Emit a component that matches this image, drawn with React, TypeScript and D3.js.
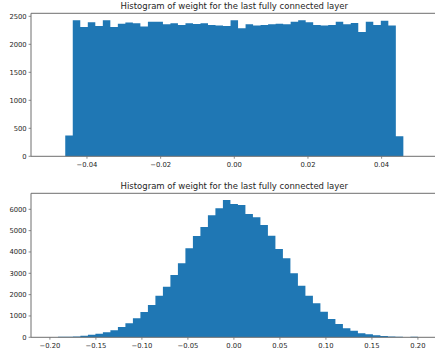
import React from "react";
import * as d3 from "d3";

const TITLE = "Histogram of weight for the last fully connected layer";

// Top histogram (uniform weights): 45 bins
const topBinLo = -0.0459;
const topBinHi = 0.0459;
const topCounts = [
  370, 2429, 2310, 2393, 2328, 2429, 2310, 2369, 2390, 2375,
  2320, 2405, 2405, 2360, 2375, 2345, 2375, 2365, 2375, 2345,
  2335, 2327, 2429, 2286, 2357, 2334, 2345, 2357, 2369, 2357,
  2405, 2429, 2393, 2345, 2334, 2345, 2405, 2357, 2381, 2220,
  2405, 2345, 2423, 2334, 357,
];
const topXTicks = [-0.04, -0.02, 0.0, 0.02, 0.04];
const topYTicks = [0, 500, 1000, 1500, 2000, 2500];
const topXDomain = [-0.0552, 0.0552];
const topYMax = 2554;

// Bottom histogram (normal weights): 50 bins
const botBinLo = -0.2076;
const botBinHi = 0.2;
const botCounts = [
  2, 5, 25, 28, 40, 77, 125, 170, 234, 328,
  483, 656, 890, 1186, 1514, 1950, 2372, 2920, 3467, 4170,
  4748, 5170, 5718, 6046, 6436, 6248, 6201, 5780, 5624, 5264,
  4764, 4139, 3702, 2999, 2420, 1950, 1592, 1202, 858, 624,
  420, 312, 187, 140, 94, 62, 38, 25, 5, 20,
];
const botXTicks = [-0.2, -0.15, -0.1, -0.05, 0.0, 0.05, 0.1, 0.15, 0.2];
const botYTicks = [0, 1000, 2000, 3000, 4000, 5000, 6000];
const botXDomain = [-0.22054, 0.2214];
const botYMax = 6750;

const FONT = "DejaVu Sans, sans-serif";
const BAR = "#1f77b4";
const SPINE = "#6e6e6e";
const TEXT = "#262626";

const fmt = (v: number) => {
  const s = Math.abs(v).toFixed(2);
  return v < -1e-9 ? "\u2212" + s : s;
};

type PanelProps = {
  counts: number[];
  lo: number;
  hi: number;
  xDomain: number[];
  yMax: number;
  xTicks: number[];
  yTicks: number[];
  top: number;
  bottom: number;
};

function Panel({ counts, lo, hi, xDomain, yMax, xTicks, yTicks, top, bottom }: PanelProps) {
  const left = 31;
  const right = 437.6;
  const x = d3.scaleLinear().domain(xDomain).range([left, right]);
  const y = d3.scaleLinear().domain([0, yMax]).range([bottom, top]);
  const n = counts.length;
  const w = (hi - lo) / n;
  const pts: [number, number][] = counts.map((c, i) => [lo + i * w, c]);
  pts.push([hi, counts[n - 1]]);
  const area = d3
    .area<[number, number]>()
    .x((d) => x(d[0]))
    .y0(y(0))
    .y1((d) => y(d[1]))
    .curve(d3.curveStepAfter);
  return (
    <g>
      <path d={area(pts) || ""} fill={BAR} />
      <line x1={left} x2={right} y1={top} y2={top} stroke={SPINE} strokeWidth={1} />
      <line x1={left} x2={right} y1={bottom} y2={bottom} stroke={SPINE} strokeWidth={1} />
      <line x1={left} x2={left} y1={top} y2={bottom} stroke={SPINE} strokeWidth={1} />
      <line x1={right} x2={right} y1={top} y2={bottom} stroke={SPINE} strokeWidth={1} />
      {xTicks.map((t) => (
        <g key={"x" + t}>
          <line x1={x(t)} x2={x(t)} y1={bottom} y2={bottom + 2.4} stroke={SPINE} strokeWidth={0.8} />
          <text
            x={x(t)}
            y={bottom + 11}
            textAnchor="middle"
            fontFamily={FONT}
            fontSize={6.8}
            fill={TEXT}
          >
            {fmt(t)}
          </text>
        </g>
      ))}
      {yTicks.map((t) => (
        <g key={"y" + t}>
          <line x1={left - 2.4} x2={left} y1={y(t)} y2={y(t)} stroke={SPINE} strokeWidth={0.8} />
          <text
            x={left - 4.3}
            y={y(t)}
            dy="0.36em"
            textAnchor="end"
            fontFamily={FONT}
            fontSize={6.8}
            fill={TEXT}
          >
            {t}
          </text>
        </g>
      ))}
      <text
        x={(left + right) / 2}
        y={top - 4.8}
        textAnchor="middle"
        fontFamily={FONT}
        fontSize={8.5}
        fill={TEXT}
      >
        {TITLE}
      </text>
    </g>
  );
}

export default function App() {
  return (
    <svg
      width={435}
      height={356}
      style={{ position: "absolute", left: 0, top: 0, background: "#fff" }}
    >
      <rect width={435} height={356} fill="#fff" />
      <Panel
        counts={topCounts}
        lo={topBinLo}
        hi={topBinHi}
        xDomain={topXDomain}
        yMax={topYMax}
        xTicks={topXTicks}
        yTicks={topYTicks}
        top={13.3}
        bottom={156.3}
      />
      <Panel
        counts={botCounts}
        lo={botBinLo}
        hi={botBinHi}
        xDomain={botXDomain}
        yMax={botYMax}
        xTicks={botXTicks}
        yTicks={botYTicks}
        top={193.3}
        bottom={337.3}
      />
    </svg>
  );
}
